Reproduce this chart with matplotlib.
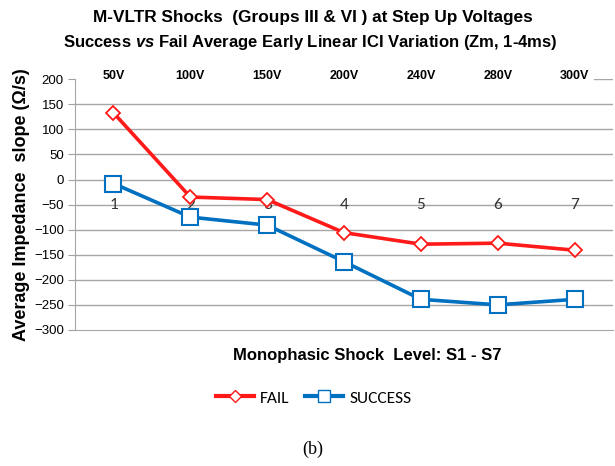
import numpy as np
import matplotlib.pyplot as plt
from matplotlib.lines import Line2D

# data
levels = [1, 2, 3, 4, 5, 6, 7]
voltages = ['50V', '100V', '150V', '200V', '240V', '280V', '300V']
fail = [133, -35, -40, -106, -129, -127, -141]
success = [-8, -75, -91, -164, -239, -250, -239]

plt.rcParams['font.family'] = ['Liberation Sans', 'DejaVu Sans']
plt.rcParams['mathtext.fontset'] = 'custom'
plt.rcParams['mathtext.rm'] = 'Liberation Sans'
plt.rcParams['mathtext.bfit'] = 'Liberation Sans:bold:italic'
calibri = ['Carlito', 'Liberation Sans', 'DejaVu Sans']

fig = plt.figure(figsize=(6.15, 4.66), dpi=100)
ax = fig.add_axes([0.122, 0.292, 0.875, 0.538])

red = '#ff1a1a'
blue = '#0070c0'
ax.plot(levels, fail, color=red, lw=2.6, marker='D', ms=7, mfc='white',
        mec=red, mew=1.3, zorder=4)
ax.plot(levels, success, color=blue, lw=2.6, marker='s', ms=11, mfc='white',
        mec=blue, mew=1.5, zorder=3)

ax.set_xlim(0.5, 7.5)
ax.set_ylim(-300, 200)
ax.set_yticks(np.arange(-300, 201, 50))
ax.tick_params(axis='y', labelsize=9.5, length=5, color='#a0a0a0', pad=3)
ax.set_xticks([])

# horizontal grid
for y in np.arange(-250, 200, 50):
    ax.axhline(y, color='#a6a6a6', lw=1.0, zorder=1)
ax.axhline(200, xmin=0.965, xmax=1.0, color='#a6a6a6', lw=1.0, zorder=1)

for s in ['top', 'right']:
    ax.spines[s].set_visible(False)
ax.spines['left'].set_color('#a6a6a6')
ax.spines['bottom'].set_color('#a6a6a6')

# category numbers in the middle, voltages on top
for x, v in zip(levels, voltages):
    ax.text(x, -50, str(x), ha='center', va='center', fontsize=12.5,
            color='#333333', family=calibri, zorder=2)
    ax.text(x, 206, v, ha='center', va='center', fontsize=9, fontweight='bold')

fig.text(0.508, 0.962, 'M-VLTR Shocks  (Groups III & VI ) at Step Up Voltages',
         ha='center', va='center', fontsize=12.4, fontweight='bold')
fig.text(0.505, 0.908, r'Success $\mathbfit{vs}$ Fail Average Early Linear ICI Variation (Zm, 1-4ms)',
         ha='center', va='center', fontsize=12, fontweight='bold')

ax.set_ylabel('Average Impedance  slope (Ω/s)', fontsize=13, fontweight='bold', labelpad=3)
fig.text(0.597, 0.238, 'Monophasic Shock  Level: S1 - S7', ha='center', va='center',
         fontsize=12, fontweight='bold')

handles = [Line2D([], [], color=red, lw=3, marker='D', ms=6, mfc='white', mec=red, mew=1),
           Line2D([], [], color=blue, lw=3, marker='s', ms=8, mfc='white', mec=blue, mew=1)]
fig.legend(handles, ['FAIL', 'SUCCESS'], loc='center', bbox_to_anchor=(0.51, 0.146),
           ncol=2, frameon=False, prop={'family': calibri, 'size': 12.5},
           handlelength=2.2, columnspacing=0.9, handletextpad=0.35)

fig.text(0.508, 0.035, '(b)', ha='center', va='center', fontsize=13,
         family=['Liberation Serif', 'DejaVu Serif'])

fig.savefig('out.png', dpi=100)
